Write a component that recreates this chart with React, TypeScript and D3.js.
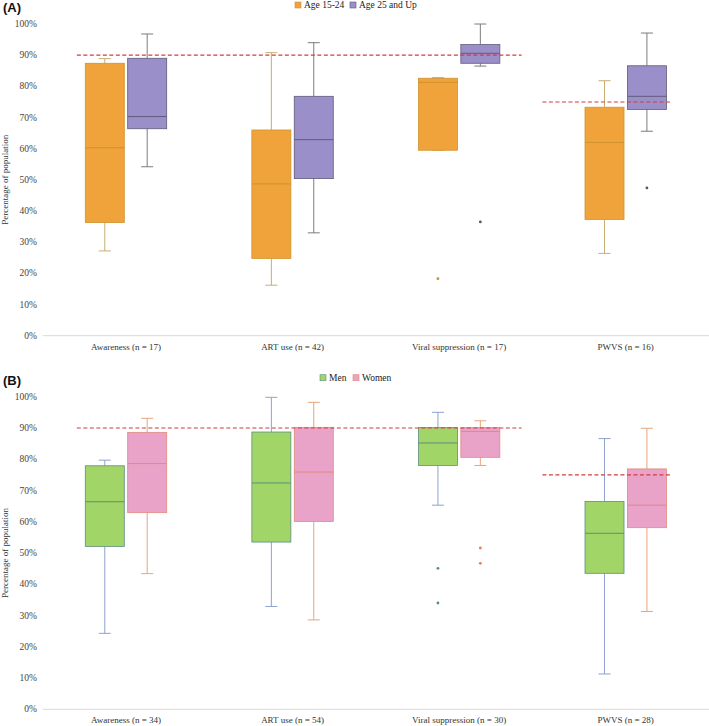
import React from "react";
import * as d3 from "d3";

// Panel A: age groups
const categoriesA = ["Awareness (n = 17)", "ART use (n = 42)", "Viral suppression (n = 17)", "PWVS (n = 16)"];
const seriesA = ["Age 15-24", "Age 25 and Up"];
// [lower whisker, Q1, median, Q3, upper whisker] in %
const age15to24 = [
  [27.2, 36.3, 60.3, 87.4, 88.9],
  [16.2, 24.8, 48.7, 66.0, 90.8],
  [59.5, 59.5, 81.3, 82.6, 82.8],
  [26.4, 37.3, 62.0, 73.3, 81.8]
];
const age25up = [
  [54.2, 66.4, 70.3, 89.0, 96.8],
  [33.0, 50.4, 62.9, 76.8, 94.0],
  [86.5, 87.4, 90.6, 93.4, 100],
  [65.6, 72.6, 76.8, 86.6, 97.1]
];
const outliersAge15to24 = [[], [], [18.3], []];
const outliersAge25up = [[], [], [36.5], [47.4]];

// Panel B: sex
const categoriesB = ["Awareness (n = 34)", "ART use (n = 54)", "Viral suppression (n = 30)", "PWVS (n = 28)"];
const seriesB = ["Men", "Women"];
const men = [
  [24.3, 52.1, 66.4, 77.9, 79.7],
  [32.9, 53.5, 72.4, 88.7, 99.8],
  [65.3, 78.0, 85.2, 90.1, 95.0],
  [11.3, 43.5, 56.3, 66.5, 86.6]
];
const women = [
  [43.4, 62.9, 78.6, 88.6, 93.1],
  [28.6, 60.1, 75.9, 90.2, 98.2],
  [78.0, 80.6, 88.9, 90.1, 92.3],
  [31.3, 58.1, 65.3, 76.9, 89.9]
];
const outliersMen = [[], [], [45.1, 34.0], []];
const outliersWomen = [[], [], [51.6, 46.7], []];

// 90-90-90 targets: [value, first category, last category]
const targets = [
  [90, 0, 2],
  [75, 3, 3]
];

const yTicks = d3.range(0, 101, 10);

type Style = { fill: string; stroke: string; whisker: string; dot: string };

const stylesA: Style[] = [
  { fill: "#f0a33b", stroke: "#cf922e", whisker: "#c9ad72", dot: "#b9962f" },
  { fill: "#9b8fc9", stroke: "#5f5a7c", whisker: "#7b7b84", dot: "#55556a" }
];
const stylesB: Style[] = [
  { fill: "#a1d567", stroke: "#5d8f7f", whisker: "#8da2cf", dot: "#5a8a8a" },
  { fill: "#e9a3c9", stroke: "#e2897a", whisker: "#e7a47c", dot: "#e07c6c" }
];

const serif = { fontFamily: '"Liberation Serif", "DejaVu Serif", serif' };

function Panel(props: {
  tag: string;
  top: number;
  bottom: number;
  categories: string[];
  series: string[];
  boxes: number[][][];
  outliers: number[][][];
  styles: Style[];
  legendX: number[];
}) {
  const { tag, top, bottom, categories, series, boxes, outliers, styles, legendX } = props;
  const left = 42.7;
  const right = 709;
  const x = d3.scaleBand<number>().domain(d3.range(categories.length)).range([left, right]);
  const inner = d3.scaleBand<number>().domain([0, 1]).range([-40.7, 40.7]).paddingInner(0.08);
  const y = d3.scaleLinear().domain([0, 100]).range([bottom, top]);
  const bw = inner.bandwidth();
  const cap = 6;

  return (
    <g>
      <text x={3} y={top - 12} style={{ fontFamily: '"Liberation Sans", Arial, sans-serif' }} fontWeight="bold" fontSize={13} fill="#111">
        {tag}
      </text>
      {series.map((s, i) => (
        <g key={s}>
          <rect x={legendX[i]} y={top - 22} width={6} height={6} fill={styles[i].fill} stroke={styles[i].stroke} strokeWidth={0.6} />
          <text x={legendX[i] + 9} y={top - 16} style={serif} fontSize={9.5} fill="#222">
            {s}
          </text>
        </g>
      ))}
      <text
        transform={`translate(8,${(top + bottom) / 2}) rotate(-90)`}
        textAnchor="middle"
        style={serif}
        fontSize={9}
        fill="#333"
      >
        Percentage of population
      </text>
      {yTicks.map((t) => (
        <text key={t} x={37} y={y(t)} dy="0.33em" textAnchor="end" style={serif} fontSize={9.5} fill="#444">
          {t}%
        </text>
      ))}
      <line x1={left} x2={right} y1={bottom} y2={bottom} stroke="#d9d9d9" strokeWidth={1} />
      {categories.map((c, i) => (
        <text
          key={c}
          x={(x(i) as number) + x.bandwidth() / 2}
          y={bottom + 11}
          dy="0.33em"
          textAnchor="middle"
          style={serif}
          fontSize={9}
          fill="#333"
        >
          {c}
        </text>
      ))}
      {boxes.map((sBoxes, si) =>
        sBoxes.map((b, ci) => {
          const cx = (x(ci) as number) + x.bandwidth() / 2 + (inner(si) as number) + bw / 2;
          const st = styles[si];
          const [lo, q1, med, q3, hi] = b;
          return (
            <g key={`${si}-${ci}`}>
              <line x1={cx} x2={cx} y1={y(hi)} y2={y(q3)} stroke={st.whisker} strokeWidth={1} />
              <line x1={cx} x2={cx} y1={y(q1)} y2={y(lo)} stroke={st.whisker} strokeWidth={1} />
              <line x1={cx - cap} x2={cx + cap} y1={y(hi)} y2={y(hi)} stroke={st.whisker} strokeWidth={1} />
              <line x1={cx - cap} x2={cx + cap} y1={y(lo)} y2={y(lo)} stroke={st.whisker} strokeWidth={1} />
              <rect x={cx - bw / 2} y={y(q3)} width={bw} height={y(q1) - y(q3)} fill={st.fill} stroke={st.stroke} strokeWidth={0.8} />
              <line x1={cx - bw / 2} x2={cx + bw / 2} y1={y(med)} y2={y(med)} stroke={st.stroke} strokeWidth={1} />
              {outliers[si][ci].map((o, k) => (
                <circle key={k} cx={cx} cy={y(o)} r={1.4} fill={st.dot} />
              ))}
            </g>
          );
        })
      )}
      {targets.map(([v, c0, c1], i) => {
        const x0 = (x(c0) as number) + (c0 === 0 ? x.bandwidth() * 0.205 : 0);
        const x1 = (x(c1) as number) + x.bandwidth() * (c1 === categories.length - 1 ? 0.78 : 0.875);
        return (
          <line key={i} x1={x0} x2={x1} y1={y(v)} y2={y(v)} stroke="#d23c3c" strokeWidth={1.1} strokeDasharray="4 2.5" />
        );
      })}
    </g>
  );
}

export default function App() {
  return (
    <svg width={709} height={726} style={{ position: "absolute", left: 0, top: 0, background: "#fff" }}>
      <Panel
        tag="(A)"
        top={24}
        bottom={335.7}
        categories={categoriesA}
        series={seriesA}
        boxes={[age15to24, age25up]}
        outliers={[outliersAge15to24, outliersAge25up]}
        styles={stylesA}
        legendX={[295, 350]}
      />
      <Panel
        tag="(B)"
        top={396.7}
        bottom={709.3}
        categories={categoriesB}
        series={seriesB}
        boxes={[men, women]}
        outliers={[outliersMen, outliersWomen]}
        styles={stylesB}
        legendX={[320, 353]}
      />
    </svg>
  );
}
